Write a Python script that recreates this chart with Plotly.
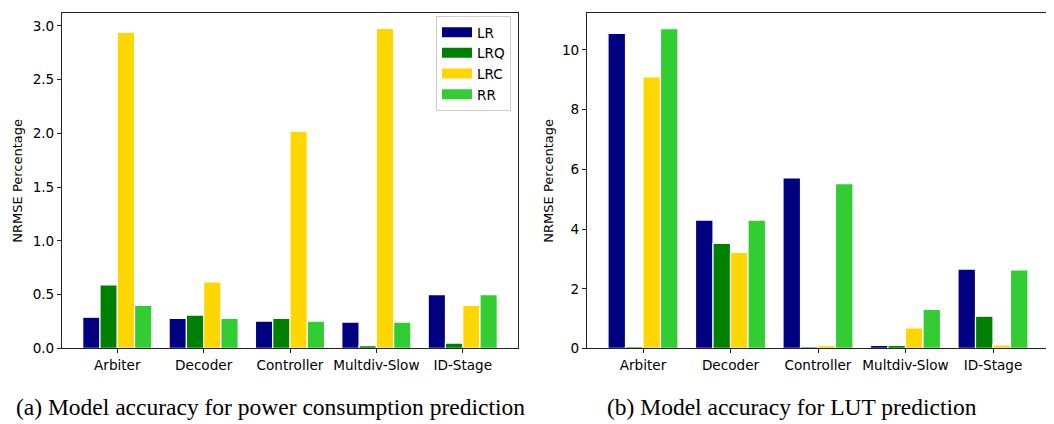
import plotly.graph_objects as go

categories = ["Arbiter", "Decoder", "Controller", "Multdiv-Slow", "ID-Stage"]
series_names = ["LR", "LRQ", "LRC", "RR"]
colors = ["#000080", "#008000", "#FFD700", "#32CD32"]

# (a) power consumption NRMSE %
power_LR = [0.29, 0.28, 0.255, 0.245, 0.50]
power_LRQ = [0.59, 0.31, 0.28, 0.025, 0.05]
power_LRC = [2.94, 0.62, 2.02, 2.975, 0.40]
power_RR = [0.40, 0.28, 0.255, 0.245, 0.50]

# (b) LUT NRMSE %
lut_LR = [10.55, 4.30, 5.71, 0.10, 2.66]
lut_LRQ = [0.06, 3.52, 0.06, 0.10, 1.08]
lut_LRC = [9.10, 3.22, 0.10, 0.69, 0.12]
lut_RR = [10.71, 4.30, 5.52, 1.31, 2.63]

power = [power_LR, power_LRQ, power_LRC, power_RR]
lut = [lut_LR, lut_LRQ, lut_LRC, lut_RR]

W, H = 1054, 424
TICK = 13.6
fig = go.Figure()
for name, col, vals in zip(series_names, colors, power):
    fig.add_trace(go.Bar(x=categories, y=vals, name=name, marker=dict(color=col, line=dict(color="white", width=1.2)),
                         xaxis="x", yaxis="y", legendgroup=name, showlegend=False))
for name, col, vals in zip(series_names, colors, lut):
    fig.add_trace(go.Bar(x=categories, y=vals, name=name, marker=dict(color=col, line=dict(color="white", width=1.2)),
                         xaxis="x2", yaxis="y2", legendgroup=name, showlegend=False))
# legend entries: wide rectangular swatches like matplotlib's
for name, col in zip(series_names, colors):
    fig.add_trace(go.Scatter(x=[None], y=[None], mode="lines", name=name, line=dict(color=col, width=10),
                             xaxis="x", yaxis="y", legendgroup=name, showlegend=True, hoverinfo="skip"))

ydom = [(H - 347) / H, (H - 5) / H]
axis_common = dict(showline=True, linecolor="#222", linewidth=1, mirror=True, ticks="outside", ticklen=4,
                   tickcolor="#222", showgrid=False, zeroline=False,
                   tickfont=dict(family="DejaVu Sans", size=TICK, color="black"))

fig.update_layout(
    width=W, height=H, margin=dict(l=0, r=0, t=0, b=0),
    plot_bgcolor="white", paper_bgcolor="white",
    barmode="group", bargap=0.2, bargroupgap=0,
    font=dict(family="DejaVu Sans", size=TICK, color="black"),
    xaxis=dict(domain=[54 / W, 510 / W], anchor="y", range=[-0.64, 4.64], **axis_common),
    yaxis=dict(domain=ydom, anchor="x", range=[0, 3.12], tickvals=[0, 0.5, 1, 1.5, 2, 2.5, 3],
               tickformat=".1f", **axis_common),
    xaxis2=dict(domain=[579 / W, 1041 / W], anchor="y2", range=[-0.64, 4.64], **axis_common),
    yaxis2=dict(domain=ydom, anchor="x2", range=[0, 11.24], tickvals=[0, 2, 4, 6, 8, 10], **axis_common),
    legend=dict(x=503 / W, y=(H - 8) / H, xanchor="right", yanchor="top", bgcolor="rgba(255,255,255,0.8)",
                bordercolor="#cccccc", borderwidth=1, font=dict(family="DejaVu Sans", size=TICK),
                tracegroupgap=0, itemwidth=30),
    annotations=[
        dict(text="NRMSE Percentage", x=10 / W, y=(H - 176) / H, xref="paper", yref="paper", textangle=-90,
             showarrow=False, font=dict(family="DejaVu Sans", size=13), xanchor="center", yanchor="middle"),
        dict(text="NRMSE Percentage", x=541 / W, y=(H - 176) / H, xref="paper", yref="paper", textangle=-90,
             showarrow=False, font=dict(family="DejaVu Sans", size=13), xanchor="center", yanchor="middle"),
        dict(text="(a) Model accuracy for power consumption prediction", x=262 / W, y=(H - 407) / H,
             xref="paper", yref="paper", showarrow=False, xanchor="center", yanchor="middle",
             font=dict(family="Liberation Serif", size=23.5)),
        dict(text="(b) Model accuracy for LUT prediction", x=784 / W, y=(H - 407) / H,
             xref="paper", yref="paper", showarrow=False, xanchor="center", yanchor="middle",
             font=dict(family="Liberation Serif", size=23.5)),
    ],
)

fig.write_html("out.html")
